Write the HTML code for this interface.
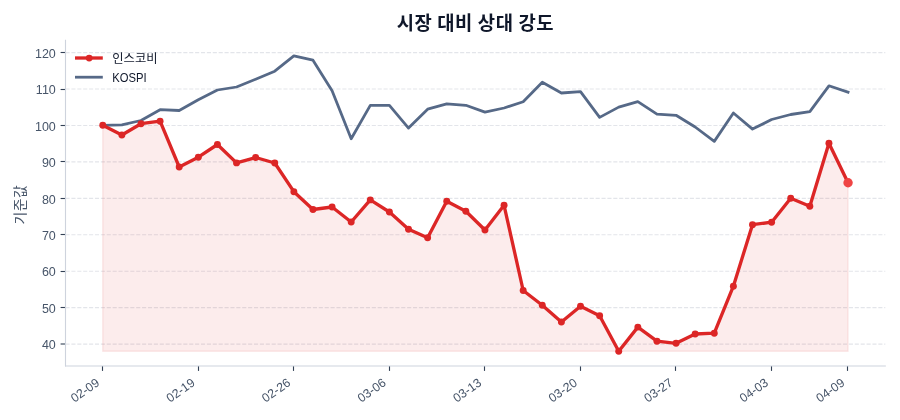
<!DOCTYPE html>
<html lang="ko"><head><meta charset="utf-8"><title>시장 대비 상대 강도</title>
<style>html,body{margin:0;padding:0;background:#fff}body{width:900px;height:420px;overflow:hidden}svg{display:block}text{font-family:"Liberation Sans", "Noto Sans CJK KR", sans-serif}</style></head><body>
<svg width="900" height="420" viewBox="0 0 900 420">
<rect width="900" height="420" fill="#ffffff"/>
<g stroke="#e3e5ea" stroke-width="1.11" stroke-dasharray="4.11 1.78" fill="none">
<line x1="65.5" y1="344.10" x2="885.3" y2="344.10"/>
<line x1="65.5" y1="307.66" x2="885.3" y2="307.66"/>
<line x1="65.5" y1="271.22" x2="885.3" y2="271.22"/>
<line x1="65.5" y1="234.78" x2="885.3" y2="234.78"/>
<line x1="65.5" y1="198.34" x2="885.3" y2="198.34"/>
<line x1="65.5" y1="161.90" x2="885.3" y2="161.90"/>
<line x1="65.5" y1="125.46" x2="885.3" y2="125.46"/>
<line x1="65.5" y1="89.02" x2="885.3" y2="89.02"/>
<line x1="65.5" y1="52.58" x2="885.3" y2="52.58"/>
</g>
<polygon points="102.76,351.30 102.76,125.30 121.87,135.00 140.98,123.70 160.09,121.20 179.20,167.00 198.31,157.20 217.42,144.50 236.53,162.90 255.64,157.50 274.75,163.00 293.86,191.70 312.97,209.50 332.08,207.00 351.19,222.00 370.30,199.90 389.41,212.00 408.52,229.20 427.63,237.80 446.74,201.20 465.85,211.20 484.96,230.00 504.07,205.30 523.18,290.50 542.29,305.30 561.40,322.00 580.51,306.20 599.62,315.70 618.73,351.30 637.84,327.10 656.95,341.20 676.06,343.30 695.17,334.00 714.28,333.20 733.39,286.20 752.50,224.70 771.61,222.20 790.72,198.30 809.83,206.20 828.94,143.20 848.05,182.70 848.05,351.30" fill="#dc2626" fill-opacity="0.085" stroke="#dc2626" stroke-opacity="0.085" stroke-width="1.39" stroke-linejoin="miter"/>
<polyline points="102.76,125.30 121.87,124.80 140.98,120.50 160.09,109.70 179.20,110.50 198.31,99.70 217.42,90.00 236.53,87.00 255.64,79.20 274.75,71.20 293.86,55.80 312.97,60.20 332.08,90.80 351.19,138.80 370.30,105.40 389.41,105.30 408.52,128.10 427.63,109.20 446.74,103.80 465.85,105.30 484.96,112.10 504.07,108.00 523.18,101.70 542.29,82.20 561.40,93.00 580.51,91.70 599.62,117.40 618.73,107.10 637.84,101.70 656.95,114.20 676.06,115.30 695.17,127.00 714.28,141.40 733.39,113.00 752.50,129.10 771.61,119.50 790.72,114.50 809.83,111.70 828.94,85.80 848.05,92.20" fill="none" stroke="#566987" stroke-width="2.78" stroke-linejoin="round" stroke-linecap="square"/>
<polyline points="102.76,125.30 121.87,135.00 140.98,123.70 160.09,121.20 179.20,167.00 198.31,157.20 217.42,144.50 236.53,162.90 255.64,157.50 274.75,163.00 293.86,191.70 312.97,209.50 332.08,207.00 351.19,222.00 370.30,199.90 389.41,212.00 408.52,229.20 427.63,237.80 446.74,201.20 465.85,211.20 484.96,230.00 504.07,205.30 523.18,290.50 542.29,305.30 561.40,322.00 580.51,306.20 599.62,315.70 618.73,351.30 637.84,327.10 656.95,341.20 676.06,343.30 695.17,334.00 714.28,333.20 733.39,286.20 752.50,224.70 771.61,222.20 790.72,198.30 809.83,206.20 828.94,143.20 848.05,182.70" fill="none" stroke="#dc2626" stroke-width="3.33" stroke-linejoin="round" stroke-linecap="butt"/>
<g fill="#dc2626">
<circle cx="102.76" cy="125.30" r="3.47"/>
<circle cx="121.87" cy="135.00" r="3.47"/>
<circle cx="140.98" cy="123.70" r="3.47"/>
<circle cx="160.09" cy="121.20" r="3.47"/>
<circle cx="179.20" cy="167.00" r="3.47"/>
<circle cx="198.31" cy="157.20" r="3.47"/>
<circle cx="217.42" cy="144.50" r="3.47"/>
<circle cx="236.53" cy="162.90" r="3.47"/>
<circle cx="255.64" cy="157.50" r="3.47"/>
<circle cx="274.75" cy="163.00" r="3.47"/>
<circle cx="293.86" cy="191.70" r="3.47"/>
<circle cx="312.97" cy="209.50" r="3.47"/>
<circle cx="332.08" cy="207.00" r="3.47"/>
<circle cx="351.19" cy="222.00" r="3.47"/>
<circle cx="370.30" cy="199.90" r="3.47"/>
<circle cx="389.41" cy="212.00" r="3.47"/>
<circle cx="408.52" cy="229.20" r="3.47"/>
<circle cx="427.63" cy="237.80" r="3.47"/>
<circle cx="446.74" cy="201.20" r="3.47"/>
<circle cx="465.85" cy="211.20" r="3.47"/>
<circle cx="484.96" cy="230.00" r="3.47"/>
<circle cx="504.07" cy="205.30" r="3.47"/>
<circle cx="523.18" cy="290.50" r="3.47"/>
<circle cx="542.29" cy="305.30" r="3.47"/>
<circle cx="561.40" cy="322.00" r="3.47"/>
<circle cx="580.51" cy="306.20" r="3.47"/>
<circle cx="599.62" cy="315.70" r="3.47"/>
<circle cx="618.73" cy="351.30" r="3.47"/>
<circle cx="637.84" cy="327.10" r="3.47"/>
<circle cx="656.95" cy="341.20" r="3.47"/>
<circle cx="676.06" cy="343.30" r="3.47"/>
<circle cx="695.17" cy="334.00" r="3.47"/>
<circle cx="714.28" cy="333.20" r="3.47"/>
<circle cx="733.39" cy="286.20" r="3.47"/>
<circle cx="752.50" cy="224.70" r="3.47"/>
<circle cx="771.61" cy="222.20" r="3.47"/>
<circle cx="790.72" cy="198.30" r="3.47"/>
<circle cx="809.83" cy="206.20" r="3.47"/>
<circle cx="828.94" cy="143.20" r="3.47"/>
<circle cx="848.05" cy="182.70" r="3.47"/>
</g>
<circle cx="848.05" cy="182.70" r="4.7" fill="#ef4444"/>
<g stroke="#334155" stroke-width="1.11">
<line x1="60.6" y1="344.00" x2="65.5" y2="344.00"/>
<line x1="60.6" y1="307.50" x2="65.5" y2="307.50"/>
<line x1="60.6" y1="271.50" x2="65.5" y2="271.50"/>
<line x1="60.6" y1="234.50" x2="65.5" y2="234.50"/>
<line x1="60.6" y1="198.50" x2="65.5" y2="198.50"/>
<line x1="60.6" y1="161.50" x2="65.5" y2="161.50"/>
<line x1="60.6" y1="125.50" x2="65.5" y2="125.50"/>
<line x1="60.6" y1="89.50" x2="65.5" y2="89.50"/>
<line x1="60.6" y1="52.50" x2="65.5" y2="52.50"/>
<line x1="102.50" y1="366.0" x2="102.50" y2="370.9"/>
<line x1="198.50" y1="366.0" x2="198.50" y2="370.9"/>
<line x1="293.50" y1="366.0" x2="293.50" y2="370.9"/>
<line x1="389.50" y1="366.0" x2="389.50" y2="370.9"/>
<line x1="484.50" y1="366.0" x2="484.50" y2="370.9"/>
<line x1="580.50" y1="366.0" x2="580.50" y2="370.9"/>
<line x1="675.50" y1="366.0" x2="675.50" y2="370.9"/>
<line x1="771.50" y1="366.0" x2="771.50" y2="370.9"/>
<line x1="847.50" y1="366.0" x2="847.50" y2="370.9"/>
</g>
<g stroke="#ced3dd" stroke-width="1.11" fill="none" stroke-linecap="square"><line x1="65.5" y1="40.4" x2="65.5" y2="366.0"/><line x1="65.5" y1="366.0" x2="885.3" y2="366.0"/></g>
<g fill="#475569" font-size="12.5" text-anchor="end">
<text x="55.8" y="349.30">40</text>
<text x="55.8" y="312.86">50</text>
<text x="55.8" y="276.42">60</text>
<text x="55.8" y="239.98">70</text>
<text x="55.8" y="203.54">80</text>
<text x="55.8" y="167.10">90</text>
<text x="55.8" y="130.66">100</text>
<text x="55.8" y="94.22">110</text>
<text x="55.8" y="57.78">120</text>
</g>
<g fill="#475569" font-size="12.3" text-anchor="end">
<text transform="translate(100.26,384.60) rotate(-35)">02-09</text>
<text transform="translate(195.81,384.60) rotate(-35)">02-19</text>
<text transform="translate(291.36,384.60) rotate(-35)">02-26</text>
<text transform="translate(386.91,384.60) rotate(-35)">03-06</text>
<text transform="translate(482.46,384.60) rotate(-35)">03-13</text>
<text transform="translate(578.01,384.60) rotate(-35)">03-20</text>
<text transform="translate(673.56,384.60) rotate(-35)">03-27</text>
<text transform="translate(769.11,384.60) rotate(-35)">04-03</text>
<text transform="translate(845.55,384.60) rotate(-35)">04-09</text>
</g>
<text transform="translate(25.3,204.6) rotate(-90)" text-anchor="middle" font-size="13.9" letter-spacing="0.45" fill="#475569">기준값</text>
<text x="475.4" y="30" text-anchor="middle" font-size="18.8" font-weight="bold" letter-spacing="0.6" word-spacing="-1" fill="#0f172a">시장 대비 상대 강도</text>
<line x1="75" y1="58" x2="102.8" y2="58" stroke="#dc2626" stroke-width="3.33"/><circle cx="89.2" cy="58.1" r="3.4" fill="#dc2626"/>
<line x1="75" y1="77.2" x2="102.8" y2="77.2" stroke="#566987" stroke-width="2.78"/>
<g fill="#0f172a" font-size="12.3"><text x="112.3" y="63.4">인스코비</text><text transform="translate(112.3,81.6) scale(0.915,1)">KOSPI</text></g>
</svg></body></html>
